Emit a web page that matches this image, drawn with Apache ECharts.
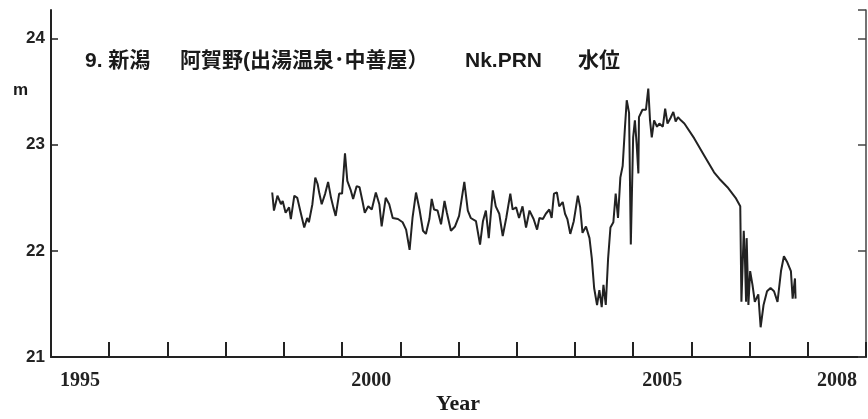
<!DOCTYPE html>
<html>
<head>
<meta charset="utf-8">
<script src="https://cdn.jsdelivr.net/npm/echarts@6.0.0/dist/echarts.min.js"></script>
<style>
  html, body { margin: 0; padding: 0; background: #fff; }
  #chart { width: 868px; height: 419px; }
</style>
</head>
<body>
<div id="chart"></div>
<script>
// 観測値（年, 水位 m）
var years = [
  1998.80,1998.83,1998.89,1998.95,1998.98,1999.03,1999.09,1999.12,1999.18,1999.23,1999.29,1999.35,1999.40,1999.43,1999.49,1999.54,1999.58,1999.61,1999.65,1999.71,1999.76,1999.81,1999.85,1999.89,1999.95,2000.00,2000.05,2000.09,2000.15,2000.19,2000.25,2000.30,2000.35,2000.39,2000.45,2000.51,2000.58,2000.64,2000.68,2000.75,2000.81,
  2000.87,2000.96,2001.04,2001.10,2001.16,2001.21,2001.27,2001.33,2001.39,2001.44,2001.50,2001.54,2001.58,2001.64,2001.70,2001.76,2001.80,2001.87,2001.94,2002.01,2002.10,2002.16,2002.21,2002.30,2002.37,2002.42,2002.47,2002.52,2002.59,2002.64,2002.70,2002.76,2002.82,2002.89,2002.93,2002.99,2003.04,2003.10,2003.16,2003.22,
  2003.29,2003.35,2003.39,2003.45,2003.50,2003.56,2003.60,2003.64,2003.69,2003.73,2003.79,2003.83,2003.87,2003.92,2003.98,2004.05,2004.09,2004.13,2004.19,2004.25,2004.29,2004.33,2004.38,2004.42,2004.46,2004.49,2004.53,2004.57,2004.61,2004.66,2004.70,2004.74,2004.78,2004.82,2004.86,2004.89,2004.93,2004.96,2005.00,2005.03,2005.06,2005.09,2005.10,2005.16,2005.22,
  2005.26,2005.29,2005.32,2005.36,2005.41,2005.45,2005.51,2005.55,2005.59,2005.64,2005.69,2005.73,2005.77,2005.82,2005.88,2006.05,2006.22,2006.39,2006.48,2006.62,2006.76,2006.84,2006.86,2006.90,2006.92,2006.94,2006.95,2006.98,2007.01,2007.05,2007.09,2007.15,2007.19,2007.24,2007.30,2007.36,2007.42,2007.48,2007.54,2007.59,2007.65,2007.71,2007.74,2007.78,2007.79
];
var levels = [
  22.55,22.38,22.52,22.44,22.47,22.36,22.41,22.30,22.52,22.50,22.36,22.22,22.31,22.27,22.44,22.69,22.63,22.54,22.44,22.54,22.65,22.50,22.41,22.33,22.54,22.54,22.92,22.66,22.57,22.49,22.61,22.60,22.47,22.36,22.42,22.39,22.55,22.44,22.23,22.50,22.44,
  22.31,22.30,22.27,22.20,22.01,22.31,22.55,22.39,22.19,22.16,22.30,22.49,22.39,22.38,22.25,22.47,22.36,22.19,22.23,22.33,22.65,22.38,22.31,22.28,22.06,22.28,22.38,22.12,22.57,22.42,22.35,22.14,22.31,22.54,22.39,22.41,22.31,22.42,22.22,22.38,
  22.30,22.20,22.31,22.30,22.35,22.39,22.31,22.54,22.55,22.42,22.46,22.35,22.30,22.16,22.28,22.52,22.41,22.17,22.23,22.12,21.93,21.65,21.49,21.63,21.47,21.68,21.49,21.93,22.22,22.27,22.54,22.31,22.69,22.80,23.17,23.42,23.30,22.06,23.07,23.23,23.01,22.73,23.26,23.33,23.33,
  23.53,23.23,23.07,23.23,23.17,23.20,23.17,23.34,23.20,23.25,23.31,23.22,23.26,23.23,23.20,23.06,22.90,22.74,22.68,22.60,22.50,22.42,21.52,22.19,21.93,21.52,22.12,21.49,21.81,21.68,21.52,21.59,21.28,21.49,21.62,21.65,21.62,21.52,21.81,21.95,21.89,21.81,21.55,21.74,21.55
];

// 年の区間（ラベルは区間の中央）
var yearCats = ['1995','1996','1997','1998','1999','2000','2001','2002','2003','2004','2005','2006','2007','2008'];
var xTickLabels = ['1995', '2000', '2005', '2008'];
var yTickLabels = [21, 22, 23, 24];

var titleFont = '"Liberation Sans", "Noto Sans CJK JP", sans-serif';
var serifFont = '"Liberation Serif", "DejaVu Serif", serif';

var chart = echarts.init(document.getElementById('chart'));

var option = {
  backgroundColor: '#fff',
  animation: false,
  grid: { left: 51, right: 2, top: 10, bottom: 62 },
  xAxis: [
    {
      type: 'value',
      min: 1995,
      max: 2009,
      interval: 1,
      axisLine: { show: true, lineStyle: { color: '#222', width: 2 } },
      axisTick: { show: true, inside: true, length: 15, lineStyle: { color: '#222', width: 2 } },
      axisLabel: { show: false },
      splitLine: { show: false }
    },
    {
      type: 'category',
      position: 'bottom',
      data: yearCats,
      boundaryGap: true,
      axisLine: { show: false },
      axisTick: { show: false },
      splitLine: { show: false },
      axisLabel: {
        interval: function (i, v) { return xTickLabels.indexOf(v) >= 0; },
        margin: 14,
        color: '#222',
        fontFamily: serifFont,
        fontWeight: 'bold',
        fontSize: 20
      }
    }
  ],
  yAxis: [
    {
      type: 'value',
      position: 'left',
      min: 21,
      max: 24.27,
      interval: 1,
      axisLine: { show: true, lineStyle: { color: '#222', width: 2 } },
      axisTick: { show: true, inside: true, length: 7, lineStyle: { color: '#222', width: 1.5 } },
      axisLabel: {
        showMaxLabel: false,
        margin: 6,
        color: '#222',
        fontFamily: titleFont,
        fontWeight: 'bold',
        fontSize: 17,
        formatter: function (v) { return yTickLabels.indexOf(v) >= 0 ? String(v) : ''; }
      },
      splitLine: { show: false }
    },
    {
      type: 'value',
      position: 'right',
      min: 21,
      max: 24.27,
      interval: 1,
      axisLine: { show: true, lineStyle: { color: '#444', width: 1.5 } },
      axisTick: { show: true, inside: true, length: 8, lineStyle: { color: '#444', width: 1.5 } },
      axisLabel: { show: false },
      splitLine: { show: false }
    }
  ],
  series: [{
    type: 'line',
    xAxisIndex: 0,
    yAxisIndex: 0,
    showSymbol: false,
    lineStyle: { color: '#222', width: 2 },
    data: years.map(function (y, i) { return [y, levels[i]]; })
  }],
  graphic: [
    { type: 'text', x: 85, y: 61, style: { text: '9. 新潟', font: 'bold 21px ' + titleFont, fill: '#1a1a1a', verticalAlign: 'middle' } },
    { type: 'text', x: 180, y: 61, style: { text: '阿賀野(出湯温泉･中善屋）', font: 'bold 21px ' + titleFont, fill: '#1a1a1a', verticalAlign: 'middle' } },
    { type: 'text', x: 465, y: 61, style: { text: 'Nk.PRN', font: 'bold 21px ' + titleFont, fill: '#1a1a1a', verticalAlign: 'middle' } },
    { type: 'text', x: 578, y: 61, style: { text: '水位', font: 'bold 21px ' + titleFont, fill: '#1a1a1a', verticalAlign: 'middle' } },
    { type: 'text', x: 13, y: 90, style: { text: 'm', font: 'bold 17px ' + titleFont, fill: '#1a1a1a', verticalAlign: 'middle' } },
    { type: 'text', x: 458, y: 404, style: { text: 'Year', font: 'bold 22px ' + serifFont, fill: '#1a1a1a', align: 'center', verticalAlign: 'middle' } }
  ]
};

chart.setOption(option);
window.addEventListener('resize', function () { chart.resize(); });
</script>
</body>
</html>
